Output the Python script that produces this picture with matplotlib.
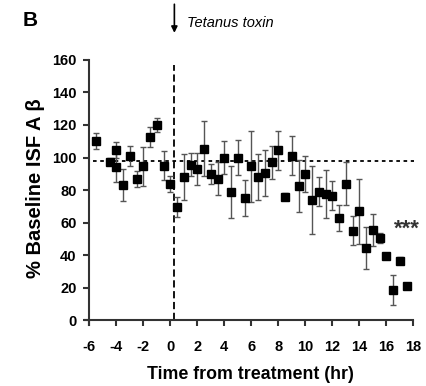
import matplotlib
matplotlib.use("Agg")
import matplotlib.pyplot as plt

plt.rcParams['font.family'] = ['Liberation Sans', 'DejaVu Sans']
plt.rcParams['font.weight'] = 'bold'
plt.rcParams['axes.unicode_minus'] = False

# time points (hr) relative to treatment
time = [-5.5, -4.5, -4, -4, -3.5, -3, -2.5, -2, -1.5, -1, -0.5,
        0, 0.5, 1, 1.5, 2, 2.5, 3, 3.5, 4, 4.5, 5, 5.5, 6, 6.5, 7, 7.5,
        8, 8.5, 9, 9.5, 10, 10.5, 11, 11.5, 12, 12.5, 13, 13.5, 14, 14.5,
        15, 15.5, 16, 16.5, 17, 17.5]

# % baseline ISF Abeta (mean) and SEM
mean = [110, 97.5, 104.5, 94, 83, 101, 87, 94.5, 112.5, 120, 95,
        83.5, 69.5, 88, 95.5, 93, 105.5, 90, 87, 100, 79, 100, 75, 94.5, 88, 90.5, 97,
        104.5, 76, 101, 82.5, 90, 74, 79, 77.5, 76.5, 63, 84, 55, 67, 44.5,
        55.5, 50.5, 39.5, 18.5, 36.5, 21]
sem = [5, 2, 5, 9, 10, 6, 5, 12, 6, 4, 9,
       5, 6, 14, 7, 10, 17, 6, 10, 10, 16, 11, 11, 22, 14, 14, 10,
       12, 2, 12, 16, 11, 21, 9, 15, 9, 8, 13, 9, 20, 13,
       10, 3, 2, 9, 2, 2]

baseline = 98
toxin_time = 0.3

fig = plt.figure(figsize=(4.26, 3.86), dpi=100)
ax = fig.add_axes([0.1986, 0.1583, 0.7732, 0.6947])

ax.errorbar(time, mean, yerr=sem, fmt='none', ecolor='#555555', elinewidth=1,
            capsize=2.5, capthick=1, zorder=2)
ax.plot(time, mean, 's', color='black', markersize=5.5, zorder=3)

# baseline and treatment lines
ax.plot([-5.7, 18.1], [baseline, baseline], color='black', lw=1.3, dashes=(2, 2), zorder=1)
ax.plot([toxin_time, toxin_time], [0, 157], color='black', lw=1.3, dashes=(4, 2), zorder=1)

ax.annotate('', xy=(toxin_time, 175), xytext=(toxin_time, 196),
            arrowprops=dict(arrowstyle='-|>', color='black', lw=1.2, mutation_scale=9),
            annotation_clip=False)
ax.text(1.2, 183, 'Tetanus toxin', style='italic', fontweight='normal', fontsize=10.5,
        va='center', clip_on=False)
ax.text(17.5, 56, '***', fontsize=16, color='#333333', ha='center', va='center')

ax.set_xlim(-6.35, 18.05)
ax.set_ylim(-3, 162)
ax.set_xticks(range(-6, 19, 2))
ax.set_yticks(range(0, 161, 20))

for s in ['top', 'right']:
    ax.spines[s].set_visible(False)
ax.spines['left'].set_position(('data', -6))
ax.spines['bottom'].set_position(('data', 0))
ax.spines['left'].set_bounds(-3, 160)
ax.spines['bottom'].set_bounds(-6.35, 18)
for s in ['left', 'bottom']:
    ax.spines[s].set_linewidth(1.5)
    ax.spines[s].set_color('#333333')
ax.tick_params(length=4.3, width=1.5, color='#333333', labelsize=10.5)
ax.tick_params(axis='x', pad=10)
ax.tick_params(axis='y', pad=5)

fig.text(0.588, 0.0285, 'Time from treatment (hr)', ha='center', va='center',
         fontsize=12.8, fontweight='bold')
fig.text(0.084, 0.513, '% Baseline ISF A \u03b2', ha='center', va='center', rotation=90,
         fontsize=14.5, fontweight='bold')
fig.text(0.054, 0.948, 'B', ha='left', va='center', fontsize=15, fontweight='bold')

fig.savefig('out.png', dpi=100)
